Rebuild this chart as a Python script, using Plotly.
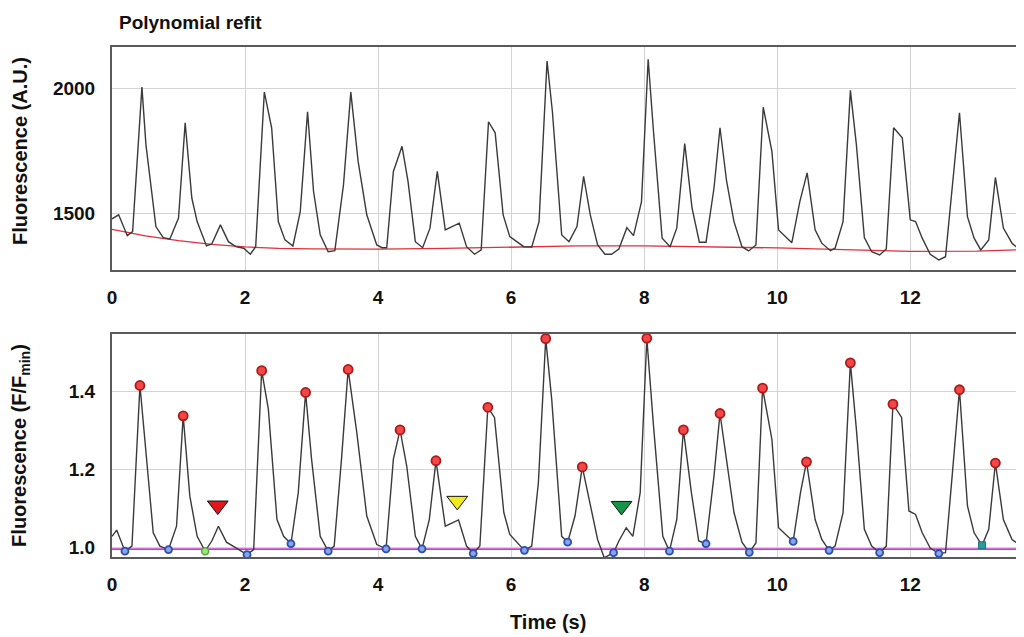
import plotly.graph_objects as go

# ---------------- data ----------------
t_raw = [0.00, 0.10, 0.23, 0.31, 0.45, 0.51, 0.66, 0.77, 0.87, 1.00, 1.10, 1.20, 1.28, 1.42, 1.50,
         1.63, 1.75, 1.86, 1.98, 2.08, 2.16, 2.29, 2.40, 2.50, 2.60, 2.72, 2.83, 2.94, 3.03, 3.13,
         3.25, 3.35, 3.48, 3.59, 3.70, 3.83, 3.98, 4.06, 4.13, 4.23, 4.36, 4.45, 4.56, 4.67, 4.78,
         4.89, 5.01, 5.22, 5.33, 5.45, 5.55, 5.66, 5.76, 5.88, 5.98, 6.19, 6.31, 6.42, 6.54, 6.62,
         6.76, 6.87, 6.99, 7.09, 7.19, 7.30, 7.41, 7.51, 7.62, 7.74, 7.84, 7.96, 8.06, 8.14, 8.27,
         8.39, 8.49, 8.61, 8.72, 8.83, 8.93, 9.05, 9.14, 9.24, 9.35, 9.47, 9.57, 9.68, 9.79, 9.92,
         10.02, 10.22, 10.34, 10.45, 10.57, 10.67, 10.80, 10.87, 10.99, 11.10, 11.19, 11.31, 11.42,
         11.54, 11.64, 11.75, 11.88, 12.00, 12.08, 12.18, 12.30, 12.43, 12.53, 12.63, 12.74, 12.86,
         12.96, 13.06, 13.18, 13.28, 13.40, 13.53, 13.63, 13.71]
f_raw = [1480, 1496, 1413, 1429, 2005, 1776, 1449, 1405, 1400, 1483, 1863, 1563, 1469, 1372, 1380,
         1456, 1389, 1369, 1363, 1339, 1369, 1985, 1843, 1469, 1396, 1372, 1509, 1907, 1589, 1416,
         1349, 1353, 1616, 1985, 1709, 1496, 1376, 1365, 1365, 1669, 1769, 1629, 1389, 1365, 1443,
         1669, 1436, 1463, 1369, 1339, 1356, 1867, 1823, 1496, 1409, 1369, 1368, 1469, 2109, 1909,
         1416, 1389, 1449, 1649, 1496, 1376, 1339, 1339, 1360, 1445, 1413, 1549, 2116, 1829, 1403,
         1369, 1443, 1780, 1523, 1387, 1387, 1603, 1843, 1629, 1469, 1369, 1352, 1376, 1925, 1749,
         1436, 1385, 1549, 1663, 1436, 1383, 1353, 1363, 1469, 1992, 1776, 1405, 1349,
         1336, 1360, 1843, 1803, 1476, 1469, 1403, 1339, 1316, 1329, 1589, 1903, 1489,
         1403, 1356, 1396, 1645, 1443, 1383, 1360, 1369]

base_t = [0, 0.5, 1, 1.5, 2, 2.5, 3, 4, 5, 6, 7, 8, 9, 10, 11, 12, 13, 13.71]
base_f = [1438, 1412, 1393, 1378, 1368, 1362, 1360, 1359, 1362, 1367, 1372, 1372, 1369, 1364,
          1357, 1350, 1351, 1357]

t_norm = [0.00, 0.07, 0.195, 0.30, 0.42, 0.62, 0.72, 0.85, 0.97, 1.07, 1.17, 1.28, 1.40, 1.50, 1.60,
          1.72, 1.87, 2.03, 2.13, 2.25, 2.35, 2.48, 2.58, 2.69, 2.80, 2.91, 3.00, 3.13, 3.25, 3.34,
          3.45, 3.55, 3.68, 3.83, 3.98, 4.12, 4.23, 4.33, 4.43, 4.56, 4.66, 4.77, 4.87, 5.01, 5.21,
          5.33, 5.43, 5.53, 5.65, 5.75, 5.89, 5.98, 6.20, 6.31, 6.41, 6.52, 6.61, 6.76, 6.85, 6.96,
          7.07, 7.19, 7.30, 7.40, 7.54, 7.62, 7.73, 7.83, 7.94, 8.04, 8.14, 8.28, 8.38, 8.49, 8.59,
          8.71, 8.82, 8.93, 9.05, 9.14, 9.24, 9.35, 9.47, 9.58, 9.68, 9.78, 9.92, 10.02, 10.24,
          10.35, 10.44, 10.57, 10.67, 10.78, 10.87, 10.99, 11.10, 11.19, 11.31, 11.42, 11.54, 11.64,
          11.74, 11.87, 11.98, 12.08, 12.18, 12.30, 12.43, 12.53, 12.63, 12.74, 12.86, 12.96, 13.08,
          13.18, 13.28, 13.40, 13.53, 13.63, 13.71]
f_norm = [1.028, 1.044, 0.990, 1.003, 1.415, 1.037, 1.003, 0.994, 1.054, 1.337, 1.131, 1.028, 0.990,
          1.016, 1.054, 1.013, 0.998, 0.981, 0.994, 1.453, 1.355, 1.071, 1.028, 1.009, 1.140, 1.397,
          1.226, 1.028, 0.990, 1.003, 1.226, 1.456, 1.294, 1.080, 1.007, 0.996, 1.226, 1.301, 1.209,
          1.028, 0.996, 1.071, 1.222, 1.054, 1.070, 1.003, 0.984, 1.003, 1.359, 1.333, 1.089, 1.033,
          0.992, 1.003, 1.166, 1.535, 1.380, 1.028, 1.013, 1.080, 1.206, 1.106, 1.020, 0.973, 0.986,
          1.016, 1.050, 1.028, 1.140, 1.536, 1.312, 1.028, 0.990, 1.071, 1.301, 1.140, 1.016, 1.009,
          1.183, 1.343, 1.217, 1.089, 1.013, 0.987, 1.011, 1.408, 1.277, 1.050, 1.015, 1.140, 1.219,
          1.071, 1.020, 0.992, 1.003, 1.089, 1.473, 1.303, 1.046, 1.003, 0.986, 1.003, 1.367, 1.333,
          1.093, 1.084, 1.037, 0.998, 0.984, 0.986, 1.183, 1.404, 1.106, 1.037, 1.005, 1.046, 1.216,
          1.071, 1.020, 1.007, 1.009]

peak_t = [0.42, 1.07, 2.25, 2.91, 3.55, 4.33, 4.87, 5.65, 6.52, 7.07, 8.04, 8.59, 9.14, 9.78,
          10.44, 11.10, 11.74, 12.74, 13.28]
peak_v = [1.415, 1.337, 1.453, 1.397, 1.456, 1.301, 1.222, 1.359, 1.535, 1.206, 1.536, 1.301,
          1.343, 1.408, 1.219, 1.473, 1.367, 1.404, 1.216]

min_t = [0.195, 0.85, 2.03, 2.69, 3.25, 4.12, 4.66, 5.43, 6.20, 6.85, 7.54, 8.38, 8.93, 9.58,
         10.24, 10.78, 11.54, 12.43]
min_v = [0.990, 0.994, 0.981, 1.009, 0.990, 0.996, 0.996, 0.984, 0.992, 1.013, 0.986, 0.990,
         1.009, 0.987, 1.015, 0.992, 0.986, 0.984]

green_min_t = [1.40]
green_min_v = [0.990]
teal_min_t = [13.08]
teal_min_v = [1.005]

flag_t = [1.59, 5.19, 7.66]
flag_v = [1.107, 1.119, 1.106]
flag_colors = ["#e3161b", "#f3ea1c", "#169447"]

thresh_t = [0, 13.71]
thresh_v = [0.995, 0.995]

x_ticks = [0, 2, 4, 6, 8, 10, 12]
top_ticks = [1500, 2000]
bot_ticks = [1.0, 1.2, 1.4]

# ---------------- figure ----------------
FONT = "Liberation Sans, Arial, sans-serif"
fig = go.Figure()

# top panel
fig.add_trace(go.Scatter(x=base_t, y=base_f, mode="lines", xaxis="x2", yaxis="y2",
                         line=dict(color="#e0303a", width=1.3), hoverinfo="skip"))
fig.add_trace(go.Scatter(x=t_raw, y=f_raw, mode="lines", xaxis="x2", yaxis="y2",
                         line=dict(color="#3a3a3a", width=1.4)))

# bottom panel
fig.add_trace(go.Scatter(x=thresh_t, y=thresh_v, mode="lines", xaxis="x", yaxis="y",
                         line=dict(color="#c83cd0", width=1.8)))
fig.add_trace(go.Scatter(x=t_norm, y=f_norm, mode="lines", xaxis="x", yaxis="y",
                         line=dict(color="#3a3a3a", width=1.4)))
fig.add_trace(go.Scatter(x=min_t, y=min_v, mode="markers", xaxis="x", yaxis="y",
                         marker=dict(symbol="circle", size=7, color="#8aa4e8",
                                     line=dict(color="#2c4fb0", width=1.8))))
fig.add_trace(go.Scatter(x=green_min_t, y=green_min_v, mode="markers", xaxis="x", yaxis="y",
                         marker=dict(symbol="circle", size=7, color="#a0e080",
                                     line=dict(color="#4fae38", width=1.5))))
fig.add_trace(go.Scatter(x=teal_min_t, y=teal_min_v, mode="markers", xaxis="x", yaxis="y",
                         marker=dict(symbol="square", size=7, color="#2c9a9a",
                                     line=dict(color="#1d6f7a", width=1))))
fig.add_trace(go.Scatter(x=peak_t, y=peak_v, mode="markers", xaxis="x", yaxis="y",
                         marker=dict(symbol="circle", size=9, color="#f04848",
                                     line=dict(color="#b01818", width=1.8))))
fig.add_trace(go.Scatter(x=flag_t, y=flag_v, mode="markers", xaxis="x", yaxis="y",
                         marker=dict(symbol="triangle-down", size=18, color=flag_colors,
                                     line=dict(color="#111111", width=1))))

axis_common = dict(
    showgrid=True, gridcolor="#d4d4d4", gridwidth=1,
    showline=True, linecolor="#5a5a5a", linewidth=2,
    zeroline=False,
    ticks="outside", tickcolor="rgba(0,0,0,0)",
    tickfont=dict(family=FONT, size=19, color="#111111", weight="bold"),
)

# The page body adds an 8 px offset, so the figure is 8 px smaller and margins compensate.
fig.update_layout(
    width=1016, height=629,
    margin=dict(l=104, r=0, t=39, b=80),
    paper_bgcolor="white", plot_bgcolor="white",
    showlegend=False,
    xaxis=dict(axis_common, domain=[0, 1], anchor="y", range=[0, 13.71],
               tickvals=x_ticks, ticklen=9, mirror=True),
    yaxis=dict(axis_common, domain=[0, 0.4373], anchor="x", range=[0.975, 1.547],
               tickvals=bot_ticks, tickformat=".1f", ticklen=11),
    xaxis2=dict(axis_common, domain=[0, 1], anchor="y2", range=[0, 13.71],
                tickvals=x_ticks, ticklen=9, mirror=True),
    yaxis2=dict(axis_common, domain=[0.5627, 1], anchor="x2", range=[1276, 2165],
                tickvals=top_ticks, ticklen=11),
    annotations=[
        dict(text="Polynomial refit", xref="paper", yref="paper", x=0.006, y=1.049,
             xanchor="left", yanchor="middle", showarrow=False,
             font=dict(family=FONT, size=19, color="#111111", weight="bold")),
        dict(text="Fluorescence (A.U.)", xref="paper", yref="paper", x=-0.101, y=0.796,
             xanchor="center", yanchor="middle", textangle=-90, showarrow=False,
             font=dict(family=FONT, size=20, color="#111111", weight="bold")),
        dict(text="Fluorescence (F/F<sub>min</sub>)", xref="paper", yref="paper",
             x=-0.101, y=0.2196, xanchor="center", yanchor="middle", textangle=-90,
             showarrow=False, font=dict(family=FONT, size=20, color="#111111", weight="bold")),
        dict(text="Time (s)", xref="paper", yref="paper", x=0.478, y=-0.1275,
             xanchor="center", yanchor="middle", showarrow=False,
             font=dict(family=FONT, size=20, color="#111111", weight="bold")),
    ],
)

fig.write_html("out.html")
